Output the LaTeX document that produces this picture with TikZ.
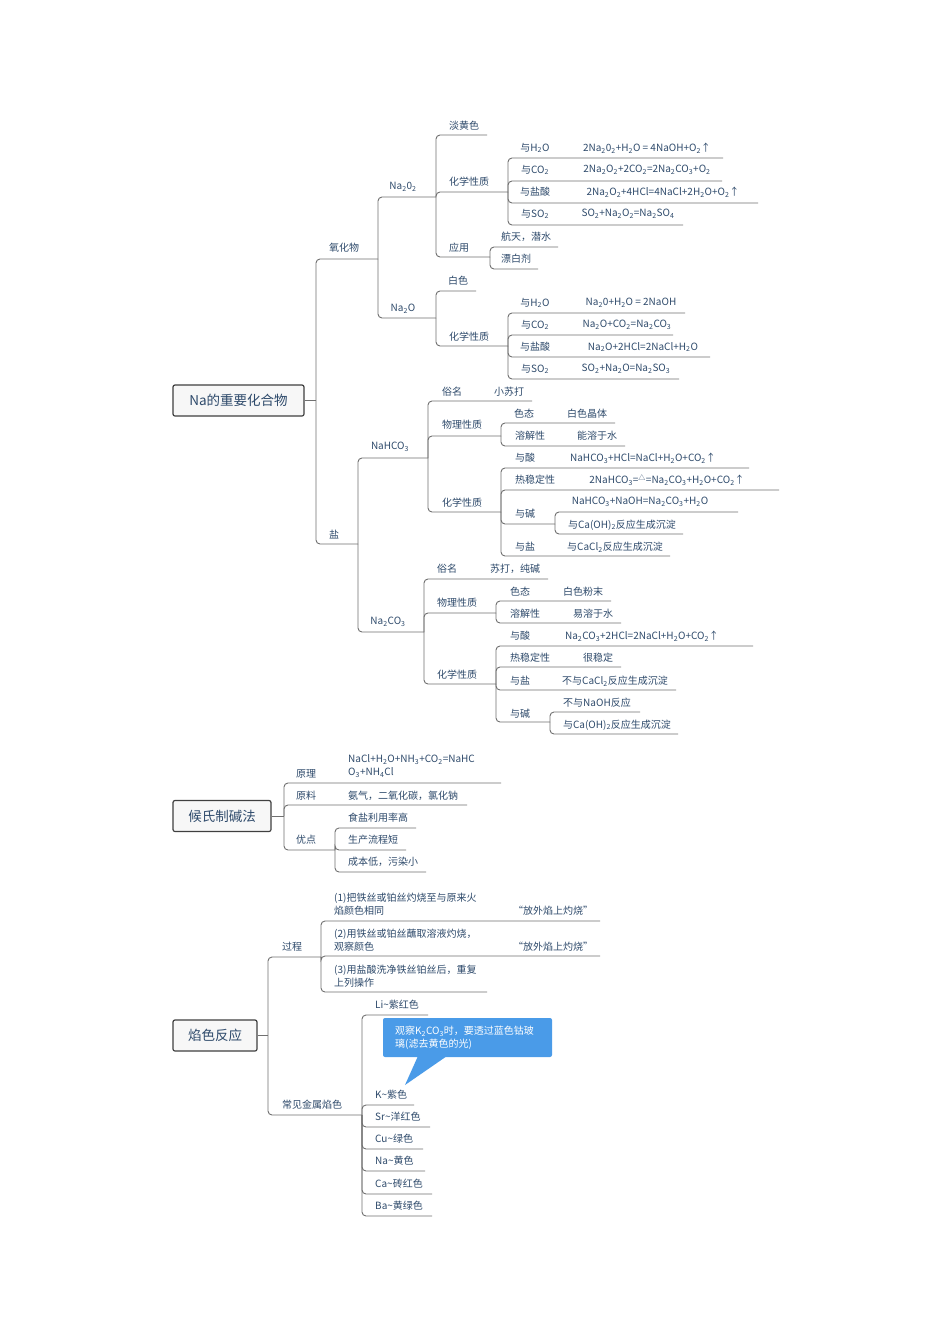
\documentclass[tikz,border=0pt]{standalone}
\usepackage{fontspec}
\setmainfont{Noto Sans CJK SC}
\newcommand\s[1]{\textsubscript{#1}}
\newcommand\ch[4]{\draw[ln] (#1,#2) |- (#4,#3);}
\newcommand\T[3]{\node[tx] at (#1,#2) {#3};}
\definecolor{txc}{HTML}{2E4A6B}
\definecolor{lnc}{HTML}{707070}
\definecolor{bub}{HTML}{4A9BE8}
\begin{document}
\begin{tikzpicture}[x=1pt,y=-1pt,
 ln/.style={draw=lnc,line width=0.9pt,rounded corners=4pt},
 tx/.style={text=txc,font=\fontsize{10}{13}\selectfont,inner sep=0pt},
 root/.style={draw=black!75,line width=1.2pt,rounded corners=2pt,fill=gray!6,text=txc,font=\fontsize{13.5}{15}\selectfont,minimum height=31pt,inner sep=0pt}]
\useasboundingbox[fill=white] (0,0) rectangle (950,1344);
% ===== Na root
\node[root,minimum width=131pt] (na) at (238.5,400.5) {Na的重要化合物};
\draw[ln] (na.east) -- (316,400.5);
\ch{316}{400}{259}{378}\ch{316}{400}{544}{358}
\T{344}{248}{氧化物}\T{334}{535}{盐}
% oxides
\ch{378}{259}{197}{436}\ch{378}{259}{318}{436}
\T{403}{187}{Na\s{2}0\s{2}}\T{403}{309}{Na\s{2}O}
\ch{436}{197}{135}{487}\ch{436}{197}{192}{508}\ch{436}{197}{257}{490}
\T{464}{126}{淡黄色}\T{469}{182}{化学性质}\T{459}{248}{应用}
\ch{508}{192}{158}{723}\ch{508}{192}{181}{722}\ch{508}{192}{203}{758}\ch{508}{192}{225}{683}
\T{535}{148}{与H\s{2}O}\T{647}{148}{2Na\s{2}0\s{2}+H\s{2}O = 4NaOH+O\s{2}↑}
\T{535}{170}{与CO\s{2}}\T{647}{170}{2Na\s{2}O\s{2}+2CO\s{2}=2Na\s{2}CO\s{3}+O\s{2}}
\T{535}{192}{与盐酸}\T{663}{192}{2Na\s{2}O\s{2}+4HCl=4NaCl+2H\s{2}O+O\s{2}↑}
\T{535}{214}{与SO\s{2}}\T{628}{214}{SO\s{2}+Na\s{2}O\s{2}=Na\s{2}SO\s{4}}
\ch{490}{257}{247}{558}\ch{490}{257}{269}{538}
\T{526}{237}{航天，潜水}\T{516}{259}{漂白剂}
\ch{436}{318}{291}{476}\ch{436}{318}{346}{508}
\T{458}{281}{白色}\T{469}{337}{化学性质}
\ch{508}{346}{313}{685}\ch{508}{346}{335}{673}\ch{508}{346}{357}{710}\ch{508}{346}{379}{679}
\T{535}{303}{与H\s{2}O}\T{631}{303}{Na\s{2}0+H\s{2}O = 2NaOH}
\T{535}{325}{与CO\s{2}}\T{627}{325}{Na\s{2}O+CO\s{2}=Na\s{2}CO\s{3}}
\T{535}{347}{与盐酸}\T{643}{347}{Na\s{2}O+2HCl=2NaCl+H\s{2}O}
\T{535}{369}{与SO\s{2}}\T{626}{369}{SO\s{2}+Na\s{2}O=Na\s{2}SO\s{3}}
% salts
\ch{358}{544}{458}{428}\ch{358}{544}{632}{424}
\T{390}{447}{NaHCO\s{3}}\T{388}{622}{Na\s{2}CO\s{3}}
\ch{428}{458}{401}{532}\ch{428}{458}{436}{501}\ch{428}{458}{512}{501}
\T{452}{392}{俗名}\T{509}{392}{小苏打}\T{462}{425}{物理性质}\T{462}{503}{化学性质}
\ch{501}{436}{423}{615}\ch{501}{436}{446}{625}
\T{524}{414}{色态}\T{587}{414}{白色晶体}\T{530}{436}{溶解性}\T{597}{436}{能溶于水}
\ch{501}{512}{468}{749}\ch{501}{512}{490}{779}\ch{501}{512}{524}{555}\ch{501}{512}{556}{670}
\T{525}{458}{与酸}\T{643}{458}{NaHCO\s{3}+HCl=NaCl+H\s{2}O+CO\s{2}↑}
\T{535}{480}{热稳定性}\T{667}{480}{2NaHCO\s{3}=\textsuperscript{△}=Na\s{2}CO\s{3}+H\s{2}O+CO\s{2}↑}
\T{525}{514}{与碱}\T{525}{547}{与盐}\T{615}{547}{与CaCl\s{2}反应生成沉淀}
\ch{555}{524}{512}{738}\ch{555}{524}{534}{683}
\T{640}{502}{NaHCO\s{3}+NaOH=Na\s{2}CO\s{3}+H\s{2}O}\T{622}{525}{与Ca(OH)\s{2}反应生成沉淀}
\ch{424}{632}{579}{548}\ch{424}{632}{613}{496}\ch{424}{632}{684}{496}
\T{447}{569}{俗名}\T{515}{569}{苏打，纯碱}\T{457}{603}{物理性质}\T{457}{675}{化学性质}
\ch{496}{613}{601}{611}\ch{496}{613}{623}{621}
\T{520}{592}{色态}\T{583}{592}{白色粉末}\T{525}{614}{溶解性}\T{593}{614}{易溶于水}
\ch{496}{684}{646}{753}\ch{496}{684}{667}{621}\ch{496}{684}{690}{676}\ch{496}{684}{722}{550}
\T{520}{636}{与酸}\T{642}{636}{Na\s{2}CO\s{3}+2HCl=2NaCl+H\s{2}O+CO\s{2}↑}
\T{530}{658}{热稳定性}\T{598}{658}{很稳定}
\T{520}{681}{与盐}\T{615}{681}{不与CaCl\s{2}反应生成沉淀}
\T{520}{714}{与碱}
\ch{550}{722}{712}{640}\ch{550}{722}{734}{678}
\T{597}{703}{不与NaOH反应}\T{617}{725}{与Ca(OH)\s{2}反应生成沉淀}
% ===== Hou
\node[root,minimum width=98pt] (hou) at (222,816) {候氏制碱法};
\draw[ln] (hou.east) -- (284,816);
\ch{284}{816}{783}{501}\ch{284}{816}{805}{467}\ch{284}{816}{850}{335}
\T{306}{774}{原理}\node[tx,anchor=west,align=left] at (348,766) {NaCl+H\s{2}O+NH\s{3}+CO\s{2}=NaHC\\O\s{3}+NH\s{4}Cl};
\T{306}{796}{原料}\node[tx,anchor=west] at (348,796) {氨气，二氧化碳，氯化钠};
\T{306}{840}{优点}
\ch{335}{850}{828}{416}\ch{335}{850}{850}{406}\ch{335}{850}{872}{426}
\node[tx,anchor=west] at (348,818) {食盐利用率高};
\node[tx,anchor=west] at (348,840) {生产流程短};
\node[tx,anchor=west] at (348,862) {成本低，污染小};
% ===== Flame
\node[root,minimum width=84pt] (fl) at (215,1035.5) {焰色反应};
\draw[ln] (fl.east) -- (268,1035.5);
\ch{268}{1035}{957}{321}\ch{268}{1035}{1115}{362}
\T{292}{947}{过程}\T{312}{1105}{常见金属焰色}
\ch{321}{957}{921}{600}\ch{321}{957}{956}{600}\ch{321}{957}{992}{487}
\node[tx,anchor=west,align=left] at (334,904) {(1)把铁丝或铂丝灼烧至与原来火\\焰颜色相同};
\node[tx,anchor=west,align=left] at (334,940) {(2)用铁丝或铂丝蘸取溶液灼烧，\\观察颜色};
\node[tx,anchor=west,align=left] at (334,976) {(3)用盐酸洗净铁丝铂丝后，重复\\上列操作};
\T{553}{911}{“放外焰上灼烧”}\T{553}{947}{“放外焰上灼烧”}
\ch{362}{1115}{1015}{428}\ch{362}{1115}{1105}{414}\ch{362}{1115}{1127}{430}
\ch{362}{1115}{1149}{423}\ch{362}{1115}{1171}{425}\ch{362}{1115}{1194}{432}\ch{362}{1115}{1216}{432}
\node[tx,anchor=west] at (375,1005) {Li\textasciitilde 紫红色};
\node[tx,anchor=west] at (375,1095) {K\textasciitilde 紫色};
\node[tx,anchor=west] at (375,1117) {Sr\textasciitilde 洋红色};
\node[tx,anchor=west] at (375,1139) {Cu\textasciitilde 绿色};
\node[tx,anchor=west] at (375,1161) {Na\textasciitilde 黄色};
\node[tx,anchor=west] at (375,1184) {Ca\textasciitilde 砖红色};
\node[tx,anchor=west] at (375,1206) {Ba\textasciitilde 黄绿色};
\fill[bub,rounded corners=2pt] (383,1018) rectangle (552,1057);
\fill[bub] (418,1056) -- (447,1056) -- (405,1085) -- cycle;
\node[tx,text=white,anchor=west,align=left] (bb) at (395,1038) {观察K\s{2}CO\s{3}时，要透过蓝色钴玻\\璃(滤去黄色的光)};
\end{tikzpicture}
\end{document}
